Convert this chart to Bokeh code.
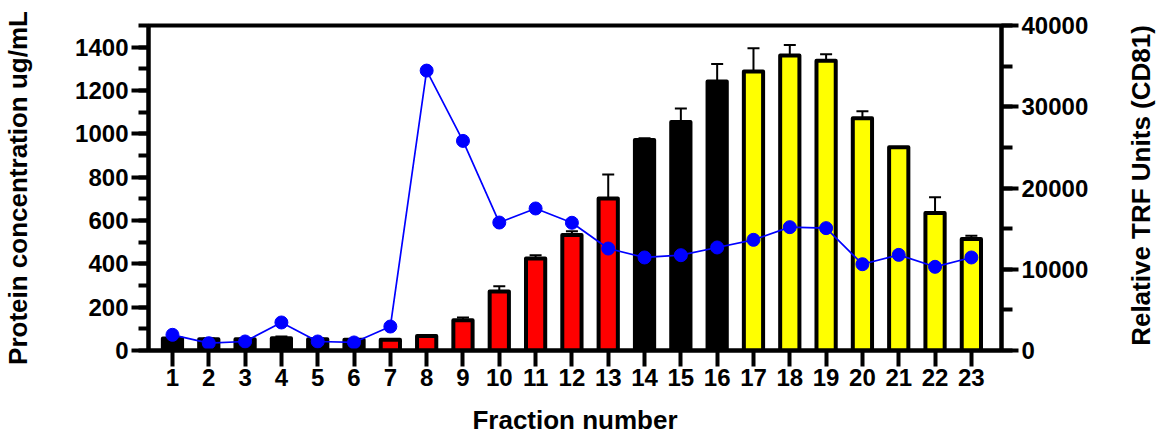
import math
from bokeh.plotting import figure
from bokeh.layouts import row
from bokeh.core.properties import value
from bokeh.models import (Range1d, LinearAxis, FixedTicker, SingleIntervalTicker,
                          Whisker, ColumnDataSource, TeeHead)
from bokeh.embed import file_html
from bokeh.resources import INLINE

# ---- data ----
fractions = list(range(1, 24))
protein = [55, 52, 52, 57, 52, 50, 50, 67, 140, 272, 425, 533, 702,
           972, 1055, 1242, 1288, 1362, 1337, 1072, 938, 635, 515]
protein_err = [5, 3, 3, 8, 3, 3, 3, 3, 12, 24, 15, 17, 110,
               8, 62, 80, 107, 48, 30, 32, 0, 72, 15]
trf = [1930, 900, 1110, 3450, 1110, 990, 2950, 34450, 25800, 15750, 17480,
       15720, 12550, 11450, 11730, 12680, 13620, 15180, 15060, 10620, 11770,
       10300, 11450]
groups = ["A"] * 6 + ["B"] * 7 + ["A"] * 3 + ["C"] * 7

x_label = "Fraction number"
y_label = "Protein concentration ug/mL"
y2_label = "Relative TRF Units (CD81)"

group_colors = {"A": "#000000", "B": "#FF0000", "C": "#FFFF00"}

src = ColumnDataSource(dict(
    x=fractions,
    protein=protein,
    upper=[v + e for v, e in zip(protein, protein_err)],
    color=[group_colors[g] for g in groups],
    trf=trf,
))

FONT = "Liberation Sans"
W, H = 1164, 437
TITLE_W = 44          # width of the strip that holds the right-hand title
TOP, BOTTOM = 25, 87  # borders around the plotting frame

p = figure(width=W - TITLE_W, height=H, output_backend="svg",
           toolbar_location=None,
           x_range=Range1d(0.34, 23.83), y_range=Range1d(0, 1500),
           min_border_left=147, min_border_right=163 - TITLE_W,
           min_border_top=TOP, min_border_bottom=BOTTOM)
p.extra_y_ranges = {"trf": Range1d(0, 40000)}
p.xgrid.visible = False
p.ygrid.visible = False
p.outline_line_color = "black"
p.outline_line_width = 4
p.outline_line_alpha = 1.0
p.background_fill_color = "white"
p.border_fill_color = "white"

whisk = Whisker(source=src, base="x", upper="upper", lower="protein",
                line_color="black", line_width=2,
                upper_head=TeeHead(size=12, line_width=2, line_color="black"),
                lower_head=None)
p.add_layout(whisk)

p.vbar(x="x", top="protein", bottom=0, width=0.53, source=src,
       fill_color="color", line_color="black", line_width=4, line_join="round")

p.line(x="x", y="trf", source=src, y_range_name="trf",
       line_color="#0000FF", line_width=1.7)
p.scatter(x="x", y="trf", source=src, y_range_name="trf", size=13,
          fill_color="#0000FF", line_color="#0000FF")


def style_axis(ax):
    ax.axis_line_width = 4
    ax.axis_line_color = "black"
    ax.major_tick_line_width = 4
    ax.minor_tick_line_width = 4
    ax.major_tick_line_color = "black"
    ax.minor_tick_line_color = "black"
    ax.major_tick_in = 0
    ax.minor_tick_in = 0
    ax.major_label_text_font = FONT
    ax.major_label_text_font_style = "bold"
    ax.major_label_text_font_size = "24px"
    ax.major_label_text_color = "black"
    ax.axis_label_text_font = FONT
    ax.axis_label_text_font_style = "bold"
    ax.axis_label_text_font_size = "26px"
    ax.axis_label_text_color = "black"


# bottom axis
xa = p.xaxis[0]
style_axis(xa)
xa.ticker = FixedTicker(ticks=fractions)
xa.major_tick_out = 16
xa.minor_tick_out = 0
xa.major_label_standoff = 2
xa.axis_label = x_label
xa.axis_label_standoff = 16

# left axis
ya = p.yaxis[0]
style_axis(ya)
ya.ticker = SingleIntervalTicker(interval=200, num_minor_ticks=2)
ya.major_tick_out = 17
ya.minor_tick_out = 10
ya.major_label_standoff = 3
ya.axis_label = y_label
ya.axis_label_standoff = 39

# right axis
ra = LinearAxis(y_range_name="trf",
                ticker=SingleIntervalTicker(interval=10000, num_minor_ticks=2))
style_axis(ra)
ra.major_tick_out = 17
ra.minor_tick_out = 11
ra.major_label_standoff = 3
p.add_layout(ra, "right")

# narrow strip holding the right-hand axis title, reading bottom-to-top.
# In a row the frames are aligned, so this strip's frame spans the same
# vertical pixels as the main frame; its y range is expressed in pixels
# measured upward from the bottom of the page.
t = figure(width=TITLE_W, height=H, output_backend="svg", toolbar_location=None,
           x_range=Range1d(0, TITLE_W), y_range=Range1d(BOTTOM, H - TOP),
           x_axis_location=None, y_axis_location=None,
           min_border_left=0, min_border_right=0,
           min_border_top=TOP, min_border_bottom=BOTTOM)
t.xgrid.visible = False
t.ygrid.visible = False
t.outline_line_color = None
t.background_fill_color = "white"
t.border_fill_color = "white"
t.text(x=[20.5], y=[H - 185], text=[y2_label], angle=math.pi / 2,
       text_align="center", text_baseline="middle",
       text_font=value(FONT), text_font_style="bold",
       text_font_size=value("26px"), text_color="black")

layout = row(p, t, spacing=0)
open("out.html", "w").write(file_html(layout, INLINE))
